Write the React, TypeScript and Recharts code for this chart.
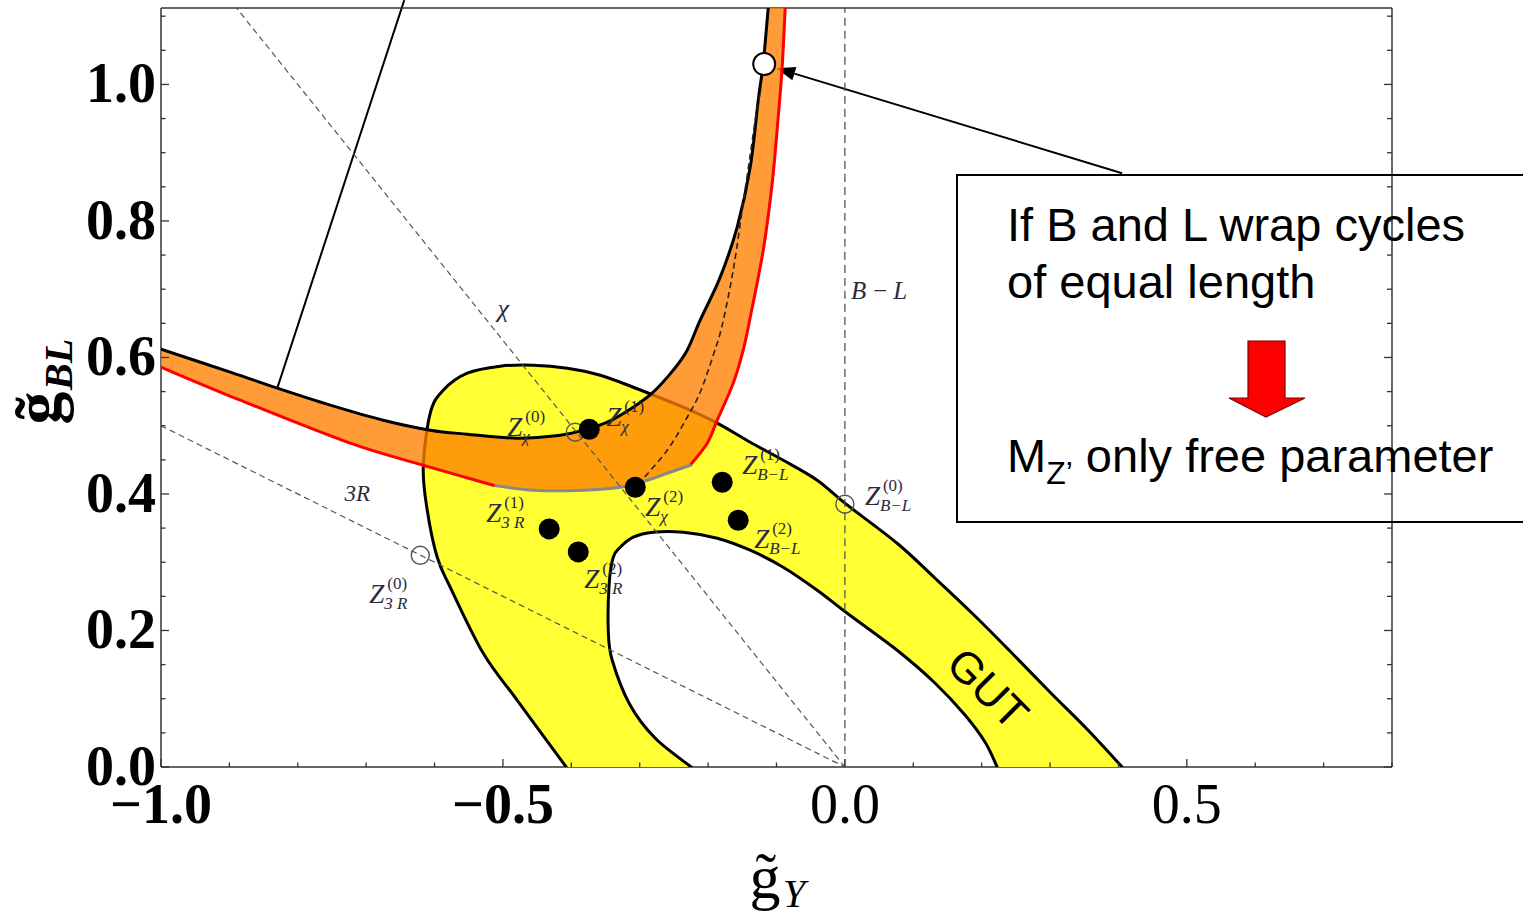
import React from "react"
import { ComposedChart, ReferenceLine, Scatter, XAxis, YAxis } from "recharts"

// axis ticks
const xTicks = [-1.0, -0.9, -0.8, -0.7, -0.6, -0.5, -0.4, -0.3, -0.2, -0.1, 0.0, 0.1, 0.2, 0.3, 0.4, 0.5, 0.6, 0.7, 0.8]
const xTickLabels = [-1.0, -0.5, 0.0, 0.5]
const yTicks = [0, 0.05, 0.1, 0.15, 0.2, 0.25, 0.3, 0.35, 0.4, 0.45, 0.5, 0.55, 0.6, 0.65, 0.7, 0.75, 0.8, 0.85, 0.9, 0.95, 1.0, 1.05, 1.1]
const yTickLabels = [0.0, 0.2, 0.4, 0.6, 0.8, 1.0]

// GUT band (yellow): outer edge, then inner edge back to the axis
const gutOuter = [
  { x: -0.4075, y: 0 }, { x: -0.4791, y: 0.0977 }, { x: -0.5288, y: 0.1666 }, { x: -0.577, y: 0.2633 },
  { x: -0.5961, y: 0.3073 }, { x: -0.6107, y: 0.3762 }, { x: -0.6165, y: 0.4392 }, { x: -0.6063, y: 0.5183 },
  { x: -0.5873, y: 0.5521 }, { x: -0.5522, y: 0.577 }, { x: -0.5039, y: 0.5873 }, { x: -0.4557, y: 0.5887 },
  { x: -0.406, y: 0.5843 }, { x: -0.3577, y: 0.574 }, { x: -0.3095, y: 0.5564 }, { x: -0.2364, y: 0.5271 },
  { x: -0.1867, y: 0.5037 }, { x: -0.1385, y: 0.4758 }, { x: -0.0902, y: 0.4495 }, { x: -0.0405, y: 0.4202 },
  { x: 0.0, y: 0.3865 }, { x: 0.0764, y: 0.3278 }, { x: 0.132, y: 0.2765 }, { x: 0.1876, y: 0.2238 },
  { x: 0.2431, y: 0.1681 }, { x: 0.3001, y: 0.1095 }, { x: 0.3557, y: 0.0538 }, { x: 0.4054, y: 0 },
]
const gutInner = [
  { x: 0.2227, y: 0 }, { x: 0.2051, y: 0.0362 }, { x: 0.1759, y: 0.0758 }, { x: 0.132, y: 0.1227 },
  { x: 0.0764, y: 0.171 }, { x: 0.0034, y: 0.2252 }, { x: -0.0405, y: 0.259 }, { x: -0.0902, y: 0.2927 },
  { x: -0.1385, y: 0.3176 }, { x: -0.1867, y: 0.3352 }, { x: -0.2364, y: 0.344 }, { x: -0.2803, y: 0.344 },
  { x: -0.3095, y: 0.3367 }, { x: -0.3285, y: 0.322 }, { x: -0.3387, y: 0.3073 }, { x: -0.3446, y: 0.2692 },
  { x: -0.346, y: 0.2003 }, { x: -0.3402, y: 0.1564 }, { x: -0.3139, y: 0.0904 }, { x: -0.2773, y: 0.0421 },
  { x: -0.2247, y: 0 },
]

// orange band
const bandUpper = [
  { x: -1.0, y: 0.6121 }, { x: -0.8987, y: 0.5785 }, { x: -0.83, y: 0.555 }, { x: -0.7525, y: 0.5301 },
  { x: -0.675, y: 0.5081 }, { x: -0.6063, y: 0.4935 }, { x: -0.5522, y: 0.4876 }, { x: -0.4791, y: 0.4818 },
  { x: -0.4162, y: 0.4862 }, { x: -0.3826, y: 0.4935 }, { x: -0.3475, y: 0.5052 }, { x: -0.3095, y: 0.5272 },
  { x: -0.2803, y: 0.5492 }, { x: -0.251, y: 0.5814 }, { x: -0.2306, y: 0.6107 }, { x: -0.2116, y: 0.6547 },
  { x: -0.1823, y: 0.7177 }, { x: -0.1575, y: 0.791 }, { x: -0.1384, y: 0.8789 }, { x: -0.1267, y: 0.977 },
  { x: -0.1194, y: 1.0312 }, { x: -0.1121, y: 1.112 },
]
const bandRightRed = [
  { x: -0.0873, y: 1.112 }, { x: -0.0917, y: 1.0253 }, { x: -0.0975, y: 0.952 }, { x: -0.1063, y: 0.8553 },
  { x: -0.1194, y: 0.7571 }, { x: -0.1384, y: 0.6589 }, { x: -0.1487, y: 0.6106 }, { x: -0.1633, y: 0.5622 },
  { x: -0.1867, y: 0.5081 }, { x: -0.2013, y: 0.4744 }, { x: -0.2262, y: 0.4421 },
]
const bandGray = [
  { x: -0.2262, y: 0.4421 }, { x: -0.2599, y: 0.4304 }, { x: -0.2891, y: 0.4201 }, { x: -0.3285, y: 0.4099 },
  { x: -0.3826, y: 0.4055 }, { x: -0.4557, y: 0.4055 }, { x: -0.5142, y: 0.4128 },
]
const bandLeftRed = [
  { x: -0.5142, y: 0.4128 }, { x: -0.6165, y: 0.4421 }, { x: -0.7233, y: 0.4744 }, { x: -0.8841, y: 0.5374 },
  { x: -1.0, y: 0.5858 },
]
const bandDashed = [
  { x: -0.3022, y: 0.4142 }, { x: -0.2598, y: 0.4641 }, { x: -0.2306, y: 0.5124 }, { x: -0.2115, y: 0.5491 },
  { x: -0.1925, y: 0.6033 }, { x: -0.1794, y: 0.6473 }, { x: -0.1633, y: 0.7279 }, { x: -0.1502, y: 0.8158 },
  { x: -0.1385, y: 0.8964 }, { x: -0.1282, y: 0.9667 }, { x: -0.1224, y: 0.9916 },
]

// straight dashed directions
const chiLine = [{ x: 0, y: 0 }, { x: -0.8896, y: 1.112 }]
const tripletLine = [{ x: -1.0, y: 0.5 }, { x: 0, y: 0 }]
const bMinusLLine = [{ x: 0, y: 0 }, { x: 0, y: 1.112 }]

// points
const openPoints = [
  { id: "chi0", x: -0.3943, y: 0.4905 },
  { id: "r30", x: -0.6209, y: 0.3102 },
  { id: "bl0", x: 0.0, y: 0.385 },
]
const bigPoint = [{ id: "big", x: -0.118, y: 1.0298 }]
const solidPoints = [
  { id: "chi1", x: -0.3738, y: 0.4949 },
  { id: "chi2", x: -0.3065, y: 0.4098 },
  { id: "bl1", x: -0.1794, y: 0.4172 },
  { id: "bl2", x: -0.156, y: 0.3615 },
  { id: "r31", x: -0.4324, y: 0.3488 },
  { id: "r32", x: -0.3899, y: 0.3151 },
]
const lineLabels = [
  { id: "chi", text: "χ", x: -0.4995, y: 0.6719 },
  { id: "bl", text: "B\u2009\u2212\u2009L", x: 0.0501, y: 0.6986 },
  { id: "r3", text: "3R", x: -0.713, y: 0.4011 },
  { id: "gut", text: "GUT", x: 0.2095, y: 0.1153 },
]

// callout lines
const pointerLine = [{ x: -0.83, y: 0.555 }, { x: -0.6443, y: 1.1235 }]
const calloutArrow = [{ x: 0.4054, y: 0.87 }, { x: -0.1004, y: 1.0239 }]

const zLabels: Record<string, { sup: string; sub: string; dx: number; dy: number }> = {
  chi0: { sup: "(0)", sub: "χ", dx: -68, dy: 4 },
  chi1: { sup: "(1)", sub: "χ", dx: 17, dy: -3 },
  chi2: { sup: "(2)", sub: "χ", dx: 10, dy: 29 },
  bl0: { sup: "(0)", sub: "B\u2212L", dx: 20, dy: 1 },
  bl1: { sup: "(1)", sub: "B\u2212L", dx: 20, dy: -8 },
  bl2: { sup: "(2)", sub: "B\u2212L", dx: 16, dy: 28 },
  r30: { sup: "(0)", sub: "3 R", dx: -51, dy: 48 },
  r31: { sup: "(1)", sub: "3 R", dx: -63, dy: -7 },
  r32: { sup: "(2)", sub: "3 R", dx: 6, dy: 36 },
}
const labelStyles: Record<string, { size: number; font: string; italic: boolean; color: string; rotate?: number }> = {
  chi: { size: 26, font: "'Liberation Serif', serif", italic: true, color: "#2b2b3c" },
  bl: { size: 25, font: "'Liberation Serif', serif", italic: true, color: "#2b2b3c" },
  r3: { size: 23, font: "'Liberation Serif', serif", italic: true, color: "#2b2b3c" },
  gut: { size: 44, font: "'Liberation Sans', Arial, sans-serif", italic: false, color: "#000", rotate: 45 },
}

const SERIF = "'Liberation Serif', 'Times New Roman', serif"
const SANS = "'Liberation Sans', Arial, sans-serif"
const FRAME = "#333"

type Pt = { x: number; y: number }

function smoothPath(pts: Pt[], start = "M") {
  if (!pts || pts.length === 0) return ""
  let d = `${start}${pts[0].x},${pts[0].y}`
  for (let i = 0; i < pts.length - 1; i++) {
    const p0 = pts[Math.max(i - 1, 0)]
    const p1 = pts[i]
    const p2 = pts[i + 1]
    const p3 = pts[Math.min(i + 2, pts.length - 1)]
    const c1x = p1.x + (p2.x - p0.x) / 6
    const c1y = p1.y + (p2.y - p0.y) / 6
    const c2x = p2.x - (p3.x - p1.x) / 6
    const c2y = p2.y - (p3.y - p1.y) / 6
    d += ` C${c1x},${c1y} ${c2x},${c2y} ${p2.x},${p2.y}`
  }
  return d
}

// closed outline made of smooth pieces joined by straight edges
function closedPath(pts: Pt[], splits: number[]) {
  let d = ""
  let from = 0
  const ends = [...splits, pts.length]
  ends.forEach((end, i) => {
    d += smoothPath(pts.slice(from, end), i === 0 ? "M" : " L")
    from = end
  })
  return d + " Z"
}

const Hidden = () => <g />

const fillLine = (fill: string, splits: number[]) => (p: any) => (
  <path d={closedPath(p.points, splits)} fill={fill} stroke="none" />
)
const strokeLine = (stroke: string, width: number, dash?: string) => (p: any) => (
  <path
    d={smoothPath(p.points)}
    fill="none"
    stroke={stroke}
    strokeWidth={width}
    strokeDasharray={dash}
    strokeLinejoin="round"
    strokeLinecap={dash ? "butt" : "round"}
  />
)

function ZLabel({ x, y, sup, sub }: { x: number; y: number; sup: string; sub: string }) {
  return (
    <g fill="#2b2b3c" fontFamily={SERIF}>
      <text x={x} y={y} fontSize={27} fontStyle="italic">Z</text>
      <text x={x + 18} y={y - 14} fontSize={17}>{sup}</text>
      <text x={x + 15} y={y + 6} fontSize={17} fontStyle="italic">{sub}</text>
    </g>
  )
}

const SolidDot = (props: any) => {
  const { cx, cy, payload } = props
  const l = zLabels[payload.id]
  return (
    <g>
      <circle cx={cx} cy={cy} r={10.5} fill="#000" />
      {l && <ZLabel x={cx + l.dx} y={cy + l.dy} sup={l.sup} sub={l.sub} />}
    </g>
  )
}

const OpenDot = (props: any) => {
  const { cx, cy, payload } = props
  const l = zLabels[payload.id]
  return (
    <g>
      <circle cx={cx} cy={cy} r={9} fill="none" stroke="#555" strokeWidth={1.4} />
      {l && <ZLabel x={cx + l.dx} y={cy + l.dy} sup={l.sup} sub={l.sub} />}
    </g>
  )
}

const BigDot = (props: any) => (
  <circle cx={props.cx} cy={props.cy} r={11} fill="#fff" stroke="#000" strokeWidth={2} />
)

const TextMark = (props: any) => {
  const { cx, cy, payload } = props
  const s = labelStyles[payload.id]
  return (
    <text
      x={cx}
      y={cy}
      textAnchor="middle"
      dominantBaseline="central"
      fontFamily={s.font}
      fontSize={s.size}
      fontStyle={s.italic ? "italic" : "normal"}
      fill={s.color}
      transform={s.rotate ? `rotate(${s.rotate} ${cx} ${cy})` : undefined}
    >
      {payload.text}
    </text>
  )
}

const ArrowShape = (props: any) => {
  const { x1, y1, x2, y2 } = props
  const ang = Math.atan2(y2 - y1, x2 - x1)
  const len = 19
  const half = 7
  const bx = x2 - len * Math.cos(ang)
  const by = y2 - len * Math.sin(ang)
  const nx = -Math.sin(ang) * half
  const ny = Math.cos(ang) * half
  return (
    <g>
      <line x1={x1} y1={y1} x2={bx} y2={by} stroke="#000" strokeWidth={2} />
      <polygon points={`${x2},${y2} ${bx + nx},${by + ny} ${bx - nx},${by - ny}`} fill="#000" />
    </g>
  )
}

const near = (v: number, list: number[]) => list.some((t) => Math.abs(t - v) < 1e-6)
const fmt = (v: number) => (v < 0 ? "\u2212" : "") + Math.abs(v).toFixed(1)

const BottomTick = (props: any) => {
  const { x, y, payload } = props
  const v = payload.value
  const major = near(v, xTickLabels)
  return (
    <g>
      <line x1={x} x2={x} y1={y} y2={y - (major ? 8 : 4.5)} stroke={FRAME} strokeWidth={1.3} />
      {major && (
        <text x={x} y={y + 56} textAnchor="middle" fontFamily={SERIF} fontSize={56} fontWeight={v < 0 ? 700 : 400} fill="#000">
          {fmt(v)}
        </text>
      )}
    </g>
  )
}
const TopTick = (props: any) => {
  const { x, y, payload } = props
  const major = near(payload.value, xTickLabels)
  return <line x1={x} x2={x} y1={y} y2={y + (major ? 8 : 4.5)} stroke={FRAME} strokeWidth={1.3} />
}
const LeftTick = (props: any) => {
  const { x, y, payload } = props
  const v = payload.value
  const major = near(v, yTickLabels)
  return (
    <g>
      <line x1={x} x2={x + (major ? 8 : 4.5)} y1={y} y2={y} stroke={FRAME} strokeWidth={1.3} />
      {major && (
        <text x={x - 5} y={y + 18} textAnchor="end" fontFamily={SERIF} fontSize={56} fontWeight={700} fill="#000">
          {fmt(v)}
        </text>
      )}
    </g>
  )
}
const RightTick = (props: any) => {
  const { x, y, payload } = props
  const major = near(payload.value, yTickLabels)
  return <line x1={x} x2={x - (major ? 8 : 5)} y1={y} y2={y} stroke={FRAME} strokeWidth={1.3} />
}

const yellowData = [...gutOuter, ...gutInner]
const bandLower = [...bandRightRed, ...bandGray.slice(1), ...bandLeftRed.slice(1)]
const bandData = [...bandUpper, ...bandLower]

export default function App() {
  const axisLine = { stroke: FRAME, strokeWidth: 1.5 }
  return (
    <div style={{ position: "absolute", left: 0, top: 0, width: 1523, height: 917, background: "#fff" }}>
      <ComposedChart width={1523} height={917} margin={{ top: 7, right: 130, bottom: 149, left: 160 }}>
        <XAxis
          type="number"
          dataKey="x"
          domain={[-1, 0.8]}
          ticks={xTicks}
          interval={0}
          allowDataOverflow
          height={1}
          tickSize={0}
          tickMargin={0}
          tickLine={false}
          axisLine={axisLine}
          tick={BottomTick}
        />
        <XAxis
          xAxisId="top"
          orientation="top"
          type="number"
          domain={[-1, 0.8]}
          ticks={xTicks}
          interval={0}
          allowDataOverflow
          height={1}
          tickSize={0}
          tickMargin={0}
          tickLine={false}
          axisLine={axisLine}
          tick={TopTick}
        />
        <YAxis
          type="number"
          dataKey="y"
          domain={[0, 1.112]}
          ticks={yTicks}
          interval={0}
          allowDataOverflow
          width={1}
          tickSize={0}
          tickMargin={0}
          tickLine={false}
          axisLine={axisLine}
          tick={LeftTick}
        />
        <YAxis
          yAxisId="right"
          orientation="right"
          type="number"
          domain={[0, 1.112]}
          ticks={yTicks}
          interval={0}
          allowDataOverflow
          width={1}
          tickSize={0}
          tickMargin={0}
          tickLine={false}
          axisLine={axisLine}
          tick={RightTick}
        />

        {/* GUT region */}
        <Scatter data={yellowData} line={fillLine("#ffff33", [gutOuter.length])} shape={Hidden} isAnimationActive={false} />
        <Scatter data={gutOuter} line={strokeLine("#000", 3)} shape={Hidden} isAnimationActive={false} />
        <Scatter data={gutInner} line={strokeLine("#000", 3)} shape={Hidden} isAnimationActive={false} />

        {/* orange band */}
        <Scatter data={bandData} line={fillLine("rgba(255,128,0,0.78)", [bandUpper.length])} shape={Hidden} isAnimationActive={false} />
        <Scatter data={bandUpper} line={strokeLine("#000", 3)} shape={Hidden} isAnimationActive={false} />
        <Scatter data={bandRightRed} line={strokeLine("#ff0000", 3)} shape={Hidden} isAnimationActive={false} />
        <Scatter data={bandGray} line={strokeLine("#888888", 3)} shape={Hidden} isAnimationActive={false} />
        <Scatter data={bandLeftRed} line={strokeLine("#ff0000", 3)} shape={Hidden} isAnimationActive={false} />
        <Scatter data={bandDashed} line={strokeLine("#222", 1.6, "6 4")} shape={Hidden} isAnimationActive={false} />

        {/* directions */}
        <Scatter data={chiLine} line={strokeLine("#555", 1.2, "6 4")} shape={Hidden} isAnimationActive={false} />
        <Scatter data={tripletLine} line={strokeLine("#555", 1.2, "6 4")} shape={Hidden} isAnimationActive={false} />
        <Scatter data={bMinusLLine} line={strokeLine("#555", 1.3, "8 5")} shape={Hidden} isAnimationActive={false} />

        {/* points */}
        <Scatter data={openPoints} shape={OpenDot} isAnimationActive={false} />
        <Scatter data={solidPoints} shape={SolidDot} isAnimationActive={false} />
        <Scatter data={bigPoint} shape={BigDot} isAnimationActive={false} />
        <Scatter data={lineLabels} shape={TextMark} isAnimationActive={false} />

        <ReferenceLine segment={pointerLine} ifOverflow="visible" stroke="#000" strokeWidth={2} />
        <ReferenceLine segment={calloutArrow} ifOverflow="visible" shape={ArrowShape} />
      </ComposedChart>

      <svg
        width={1523}
        height={917}
        style={{ position: "absolute", left: 0, top: 0, pointerEvents: "none" }}
      >
        {/* y axis title */}
        <g transform="translate(60 408) rotate(-90)" fontFamily={SERIF} fill="#000">
          <text x={0} y={0} textAnchor="middle" fontSize={66} fontWeight={700}>{"g\u0303"}</text>
          <text x={18} y={12} fontSize={40} fontStyle="italic" fontWeight={700}>BL</text>
        </g>
        {/* x axis title */}
        <g fontFamily={SERIF} fill="#000">
          <text x={765} y={898} textAnchor="middle" fontSize={62}>{"g\u0303"}</text>
          <text x={783} y={907} fontSize={40} fontStyle="italic">Y</text>
        </g>

        {/* note box */}
        <rect x={957} y={175} width={620} height={347} fill="none" stroke="#000" strokeWidth={2} />
        <g fontFamily={SANS} fontSize={47} fill="#000">
          <text x={1007} y={241}>If B and L wrap cycles</text>
          <text x={1007} y={298}>of equal length</text>
          <text x={1007} y={472}>
            M
            <tspan fontSize={32} dy={12}>Z’</tspan>
            <tspan fontSize={47} dy={-12}> only free parameter</tspan>
          </text>
        </g>
        <polygon
          points="1248,341 1285,341 1285,398 1305,398 1266,417 1229,398 1248,398"
          fill="#ff0000"
          stroke="#7a0000"
          strokeWidth={1.2}
        />
      </svg>
    </div>
  )
}
